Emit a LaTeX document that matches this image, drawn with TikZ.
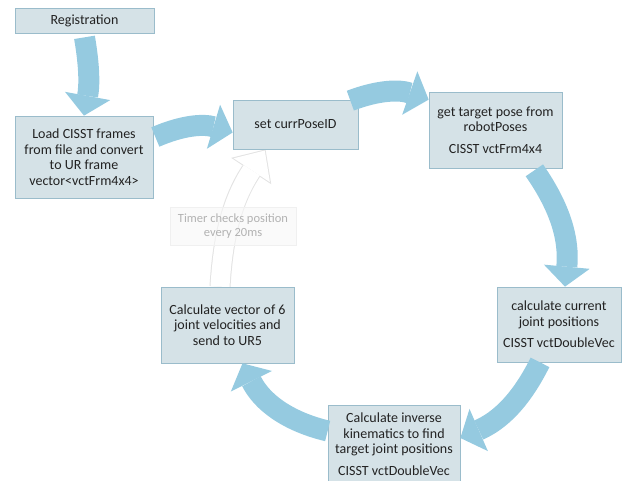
\documentclass[tikz,border=0pt]{standalone}
\usepackage{fontspec}
\setmainfont{Carlito}
\usepackage{xcolor}
\usepackage{tikz}
\usetikzlibrary{arrows.meta, backgrounds}
\definecolor{boxfill}{HTML}{D5E2E7}
\definecolor{boxline}{HTML}{9ABCCB}
\definecolor{arrowblue}{HTML}{95CAE0}
\definecolor{textdark}{HTML}{222222}
\tikzset{
    cycle box/.style={draw=boxline, fill=boxfill, line width=0.7pt, align=center,
        inner sep=0pt, text=textdark, font=\fontsize{14}{15.5}\selectfont},
    cycle arrow/.style={draw=arrowblue, line width=21pt,
        -{Triangle[length=20pt, width=46pt, line width=0pt]}},
    timer note/.style={draw=gray!12, fill=gray!6, fill opacity=0.6, text opacity=1,
        text=gray!60, align=center, inner sep=0pt, font=\fontsize{12.5}{14.5}\selectfont},
    timer arrow outer/.style={draw=gray!22, line width=21pt,
        -{Triangle[length=26pt, width=48pt, line width=0pt]}},
    timer arrow inner/.style={draw=white, line width=19pt, shorten >=1.4pt,
        -{Triangle[length=23.6pt, width=43.4pt, line width=0pt]}},
}

\begin{document}
\begin{tikzpicture}[x=1pt, y=1pt]
    \useasboundingbox (0,0) rectangle (629,481);

    % Nodes
    \node[cycle box, minimum width=139pt, minimum height=25pt] (registration) at (84.5,460.5) {Registration};
    \node[cycle box, minimum width=138pt, minimum height=82pt] (load) at (84,324) {Load CISST frames\\from file and convert\\to UR frame\\vector<vctFrm4x4>};
    \node[cycle box, minimum width=125pt, minimum height=49pt] (setpose) at (295.5,356.5) {set currPoseID};
    \node[cycle box, minimum width=133pt, minimum height=76pt] (target) at (495.5,351) {get target pose from\\robotPoses\\[6pt]CISST vctFrm4x4};
    \node[cycle box, minimum width=124pt, minimum height=75pt] (current) at (559,156.5) {calculate current\\joint positions\\[6pt]CISST vctDoubleVec};
    \node[cycle box, minimum width=132pt, minimum height=78pt] (inverse) at (394,37) {Calculate inverse\\kinematics to find\\target joint positions\\[6pt]CISST vctDoubleVec};
    \node[cycle box, minimum width=133pt, minimum height=76pt] (velocity) at (227.5,156) {Calculate vector of 6\\joint velocities and\\send to UR5};
    \node[timer note, minimum width=126pt, minimum height=38pt] (timer) at (233,255) {Timer checks position\\every 20ms};

    % Arrows
    \begin{scope}[on background layer]
        \draw[timer arrow outer] ([xshift=-7.5pt]velocity.north) to[bend left=15] ([xshift=-30pt]setpose.south);
        \draw[timer arrow inner] ([xshift=-7.5pt]velocity.north) to[bend left=15] ([xshift=-30pt]setpose.south);
    \end{scope}
    \draw[cycle arrow] ([yshift=-4pt]registration.south) to[bend left=10] (load.north);
    \draw[cycle arrow] ([xshift=2pt,yshift=20pt]load.east) to[bend left=20] ([yshift=-8pt]setpose.west);
    \draw[cycle arrow] ([xshift=-8pt,yshift=-1pt]setpose.north east) to[bend left=20] ([yshift=-8pt]target.north west);
    \draw[cycle arrow] ([xshift=-28pt,yshift=-2pt]target.south east) to[bend left=20] ([xshift=6pt]current.north);
    \draw[cycle arrow] ([xshift=-19pt]current.south) to[bend left=20] ([yshift=6pt]inverse.east);
    \draw[cycle arrow] ([yshift=13pt]inverse.west) to[bend left=25] ([xshift=15pt]velocity.south);

\end{tikzpicture}
\end{document}
